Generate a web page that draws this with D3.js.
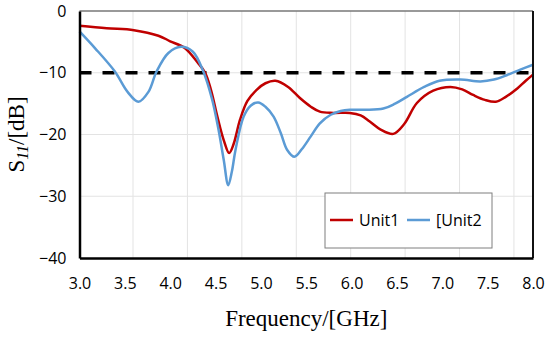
<!DOCTYPE html>
<html>
<head>
<meta charset="utf-8">
<script src="https://cdn.jsdelivr.net/npm/d3@7"></script>
<style>
  body { margin: 0; background: #fff; }
  svg { display: block; }
</style>
</head>
<body>
<svg id="chart"></svg>
<script>
// values
const freq1 = [3.0, 3.3, 3.6, 3.87, 4.0, 4.16, 4.3, 4.385, 4.45, 4.52, 4.59, 4.65, 4.7, 4.77, 4.85, 4.95, 5.05, 5.16, 5.3, 5.43, 5.55, 5.65, 5.8, 5.98, 6.1, 6.2, 6.32, 6.46, 6.58, 6.72, 6.9, 7.09, 7.22, 7.34, 7.47, 7.59, 7.7, 7.83, 7.92, 8.0];
const unit1 = [-2.4, -2.8, -3.1, -4.0, -4.9, -6.0, -8.3, -10.0, -12.8, -17.1, -20.9, -23.0, -21.5, -17.6, -14.6, -12.8, -11.7, -11.3, -12.3, -14.1, -15.5, -16.3, -16.5, -16.5, -16.9, -17.9, -19.2, -19.9, -18.3, -14.9, -12.9, -12.3, -12.7, -13.6, -14.4, -14.7, -13.9, -12.5, -11.3, -10.3];
const freq2 = [3.0, 3.17, 3.39, 3.53, 3.65, 3.76, 3.85, 3.98, 4.12, 4.25, 4.36, 4.46, 4.53, 4.59, 4.64, 4.68, 4.72, 4.81, 4.89, 4.97, 5.05, 5.14, 5.22, 5.29, 5.37, 5.45, 5.55, 5.65, 5.77, 5.88, 5.98, 6.15, 6.35, 6.48, 6.61, 6.8, 6.97, 7.2, 7.42, 7.57, 7.71, 7.86, 8.0];
const unit2 = [-3.3, -6.0, -9.8, -13.1, -14.7, -13.1, -9.8, -6.8, -5.8, -6.6, -9.6, -14.2, -19.0, -24.1, -28.2, -26.0, -22.5, -17.1, -15.3, -14.8, -15.5, -17.1, -19.8, -22.5, -23.6, -22.4, -20.3, -18.2, -16.8, -16.2, -16.0, -16.0, -15.8, -15.0, -13.9, -12.3, -11.3, -11.1, -11.4, -11.1, -10.4, -9.5, -8.7];
const threshold = -10;
const xTicks = [3.0, 3.5, 4.0, 4.5, 5.0, 5.5, 6.0, 6.5, 7.0, 7.5, 8.0];
const yTicks = [0, -10, -20, -30, -40];
const xGrid = [3.59, 4.19, 4.79, 5.39, 5.99, 6.59, 7.19, 7.79];
const seriesNames = ['Unit1', '[Unit2'];
const seriesColors = ['#C00000', '#5B9BD5'];

const width = 550;
const height = 337;
const margin = { top: 11, right: 17, bottom: 79, left: 79.5 };
const innerW = width - margin.left - margin.right;
const innerH = height - margin.top - margin.bottom;

const svg = d3.select('#chart')
  .attr('width', width)
  .attr('height', height);

const g = svg.append('g')
  .attr('transform', `translate(${margin.left},${margin.top})`);

const x = d3.scaleLinear().domain([3, 8]).range([0, innerW]);
const y = d3.scaleLinear().domain([-40, 0]).range([innerH, 0]);

// grid
g.append('g')
  .selectAll('line')
  .data(xGrid)
  .join('line')
  .attr('x1', d => x(d)).attr('x2', d => x(d))
  .attr('y1', 0).attr('y2', innerH)
  .attr('stroke', '#e3e3e3').attr('stroke-width', 1);

g.append('g')
  .selectAll('line')
  .data(yTicks.filter(d => d > -40 && d < 0))
  .join('line')
  .attr('x1', 0).attr('x2', innerW)
  .attr('y1', d => y(d)).attr('y2', d => y(d))
  .attr('stroke', '#e3e3e3').attr('stroke-width', 1);

// threshold line
g.append('line')
  .attr('x1', 0).attr('x2', innerW)
  .attr('y1', y(threshold)).attr('y2', y(threshold))
  .attr('stroke', '#000')
  .attr('stroke-width', 3.5)
  .attr('stroke-dasharray', '12,11');

// curves
const line = d3.line()
  .x(d => x(d[0]))
  .y(d => y(d[1]))
  .curve(d3.curveCatmullRom.alpha(0.5));

const series = [
  d3.zip(freq1, unit1),
  d3.zip(freq2, unit2)
];

series.forEach((s, i) => {
  g.append('path')
    .datum(s)
    .attr('d', line)
    .attr('fill', 'none')
    .attr('stroke', seriesColors[i])
    .attr('stroke-width', 2.5);
});

// frame
g.append('line')
  .attr('x1', 0).attr('x2', innerW).attr('y1', 0).attr('y2', 0)
  .attr('stroke', '#777').attr('stroke-width', 1.5);
g.append('line')
  .attr('x1', innerW).attr('x2', innerW).attr('y1', 0).attr('y2', innerH)
  .attr('stroke', '#111').attr('stroke-width', 2);

const xAxis = g.append('g')
  .attr('transform', `translate(0,${innerH})`)
  .call(d3.axisBottom(x).tickValues(xTicks).tickFormat(d3.format('.1f')).tickSize(0));
const yAxis = g.append('g')
  .call(d3.axisLeft(y).tickValues(yTicks).tickFormat(d => d === 0 ? '0' : '\u2212' + Math.abs(d)).tickSize(0).tickPadding(13));

[xAxis, yAxis].forEach(a => {
  a.select('.domain').attr('stroke', '#000').attr('stroke-width', 2.5);
  a.selectAll('text')
    .attr('font-family', '"Open Sans", sans-serif')
    .attr('font-size', 16)
    .attr('fill', '#000');
});
// put the x labels at a fixed baseline below the axis
xAxis.selectAll('text').attr('y', 31).attr('dy', null);

// axis titles
svg.append('text')
  .attr('x', margin.left + innerW / 2)
  .attr('y', 326)
  .attr('text-anchor', 'middle')
  .attr('font-family', '"Liberation Serif", "Times New Roman", serif')
  .attr('font-size', 23)
  .attr('fill', '#000')
  .text('Frequency/[GHz]');

const yt = svg.append('text')
  .attr('transform', `translate(24,${margin.top + innerH / 2}) rotate(-90)`)
  .attr('text-anchor', 'middle')
  .attr('font-family', '"Liberation Serif", "Times New Roman", serif')
  .attr('font-size', 23)
  .attr('fill', '#000');
yt.append('tspan').text('S');
yt.append('tspan').attr('font-style', 'italic').attr('font-size', 16).attr('dy', 4).text('11');
yt.append('tspan').attr('dy', -4).text('/[dB]');

// legend
const legend = svg.append('g').attr('transform', 'translate(325,193)');
legend.append('rect')
  .attr('width', 167).attr('height', 55)
  .attr('fill', '#fff').attr('stroke', '#7f7f7f').attr('stroke-width', 1);

const legendX = [5, 82];
seriesNames.forEach((name, i) => {
  const item = legend.append('g').attr('transform', `translate(${legendX[i]},27)`);
  item.append('line')
    .attr('x1', 0).attr('x2', 23).attr('y1', 0).attr('y2', 0)
    .attr('stroke', seriesColors[i]).attr('stroke-width', 2.5);
  item.append('text')
    .attr('x', 29).attr('y', 6)
    .attr('font-family', '"Open Sans", sans-serif')
    .attr('font-size', 16)
    .attr('fill', '#000')
    .text(name);
});
</script>
</body>
</html>
